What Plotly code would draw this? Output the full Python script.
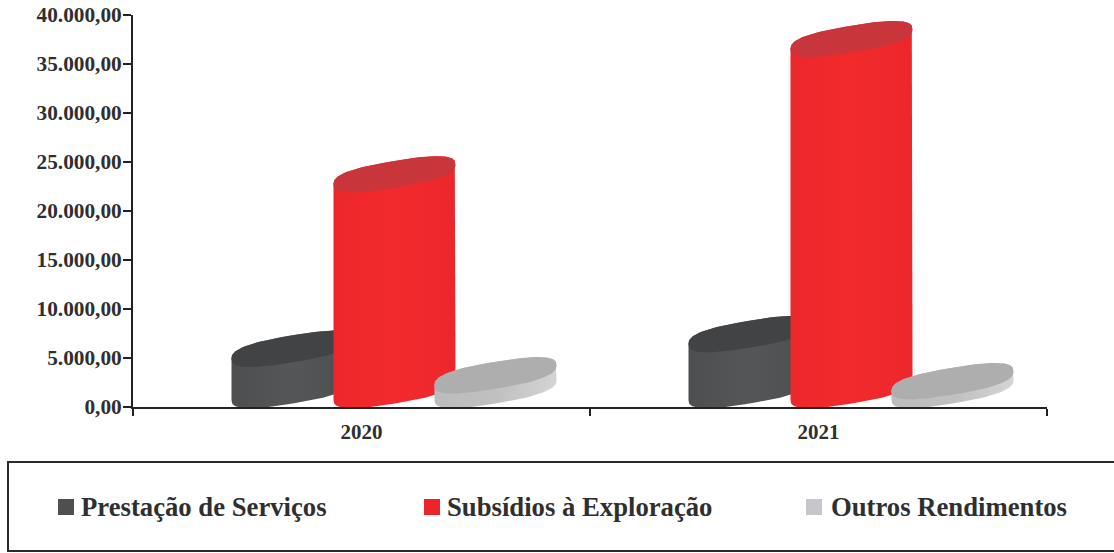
import numpy as np
import plotly.graph_objects as go

years = ["2020", "2021"]
series_names = ["Prestação de Serviços", "Subsídios à Exploração", "Outros Rendimentos"]
prestacao = [4200, 5700]
subsidios = [22000, 35800]
outros = [1500, 900]
y_ticks = [0, 5000, 10000, 15000, 20000, 25000, 30000, 35000, 40000]
y_tick_labels = ["0,00", "5.000,00", "10.000,00", "15.000,00", "20.000,00",
                 "25.000,00", "30.000,00", "35.000,00", "40.000,00"]

W, H = 1114, 553
L, R, T, B = 133, 1047, 15, 407
PX_X = (R - L) / 2.0
PX_Y = (B - T) / 40000.0
TXT = "#2f2f2f"
FONT = "Liberation Serif"

A = 61 / PX_X            # half width of a cylinder, x units
SHEAR = 10 / PX_Y        # rise of the ellipse towards its right end, value units
MINOR = 13.5 / PX_Y      # ellipse half height, value units
BASE = 17 / PX_Y         # the 3-D floor sits above the axis line
ROUND = 0.75             # below 1 gives the fuller ends seen in the reference
OFFSETS = [-69 / PX_X, 33 / PX_X, 134 / PX_X]
styles = [
    dict(side=["#4c4e50", "#545658", "#4c4e50"], top="#414345"),
    dict(side=["#ec272b", "#f22a2c", "#ec272c"], top="#c8363b"),
    dict(side=["#bcbcbc", "#c0c0c0", "#d4d4d4"], top="#aeaeae"),
]

t_lo = np.linspace(np.pi, 2 * np.pi, 90)
t_hi = np.linspace(0, np.pi, 90)
t_all = np.linspace(0, 2 * np.pi, 180)


def ring(cx, cy, t):
    c = np.sign(np.cos(t)) * np.abs(np.cos(t)) ** ROUND
    s = np.sign(np.sin(t)) * np.abs(np.sin(t)) ** ROUND
    return cx + A * c, cy + MINOR * s + SHEAR * c


fig = go.Figure()
for i, (name, values, st) in enumerate(zip(series_names, [prestacao, subsidios, outros], styles)):
    for j, v in enumerate(values):
        cx = j + OFFSETS[i]
        xb, yb = ring(cx, BASE, t_lo)
        xt, yt = ring(cx, BASE + v, t_hi)
        fig.add_trace(go.Scatter(
            x=np.r_[xb, xt], y=np.r_[yb, yt], mode="lines", line=dict(width=0),
            fill="toself", name=name, showlegend=False, hoverinfo="name",
            fillgradient=dict(type="horizontal", colorscale=[[0, st["side"][0]], [0.5, st["side"][1]], [1, st["side"][2]]]),
        ))
        xc, yc = ring(cx, BASE + v, t_all)
        fig.add_trace(go.Scatter(
            x=xc, y=yc, mode="lines", line=dict(width=0), fill="toself",
            fillcolor=st["top"], name=name, showlegend=False, hoverinfo="name",
        ))


def px(x):
    return (x - L) / (R - L)


def py(y):
    return (B - y) / (B - T)


shapes = [dict(type="rect", xref="paper", yref="paper", x0=px(8), x1=px(1130), y0=py(462), y1=py(551),
               line=dict(color="#2a2a2a", width=2), fillcolor="rgba(0,0,0,0)")]
annotations = []
legend_swatches = [(58, "#4d4f51"), (424, "#ee2229"), (806, "#c6c7cc")]
legend_text_x = [79, 445, 829]
for (sx, col), tx, name in zip(legend_swatches, legend_text_x, series_names):
    shapes.append(dict(type="rect", xref="paper", yref="paper", x0=px(sx), x1=px(sx + 16),
                       y0=py(499), y1=py(515), fillcolor=col, line=dict(width=0)))
    annotations.append(dict(xref="paper", yref="paper", x=px(tx), y=py(507), xanchor="left", yanchor="middle",
                            text=name, showarrow=False, font=dict(family=FONT, size=26.7, color=TXT, weight="bold")))

fig.update_layout(
    width=W, height=H, margin=dict(l=L, r=W - R, t=T, b=H - B, pad=0),
    paper_bgcolor="white", plot_bgcolor="white", showlegend=False,
    shapes=shapes, annotations=annotations,
    xaxis=dict(range=[-0.5, 1.5], tickmode="array", tickvals=[0, 1], ticktext=years, ticks="",
               automargin=False, showgrid=False, zeroline=False, showline=True, linecolor="#222", linewidth=2,
               ticklabelstandoff=5,
               tickfont=dict(family=FONT, size=21, color=TXT, weight="bold"),
               minor=dict(ticks="outside", tickmode="array", tickvals=[-0.5, 0.5, 1.5], ticklen=7, tickwidth=2,
                          tickcolor="#222", showgrid=False)),
    yaxis=dict(range=[0, 40000], tickmode="array", tickvals=y_ticks, ticktext=y_tick_labels, ticks="outside",
               automargin=False, ticklen=8, tickwidth=2, tickcolor="#222", showgrid=False, zeroline=False,
               showline=True, linecolor="#222", linewidth=2, ticklabelstandoff=-3,
               tickfont=dict(family=FONT, size=21.3, color=TXT, weight="bold")),
)
fig.write_html("out.html", config={"displayModeBar": False}, post_script="document.body.style.margin='0';")
